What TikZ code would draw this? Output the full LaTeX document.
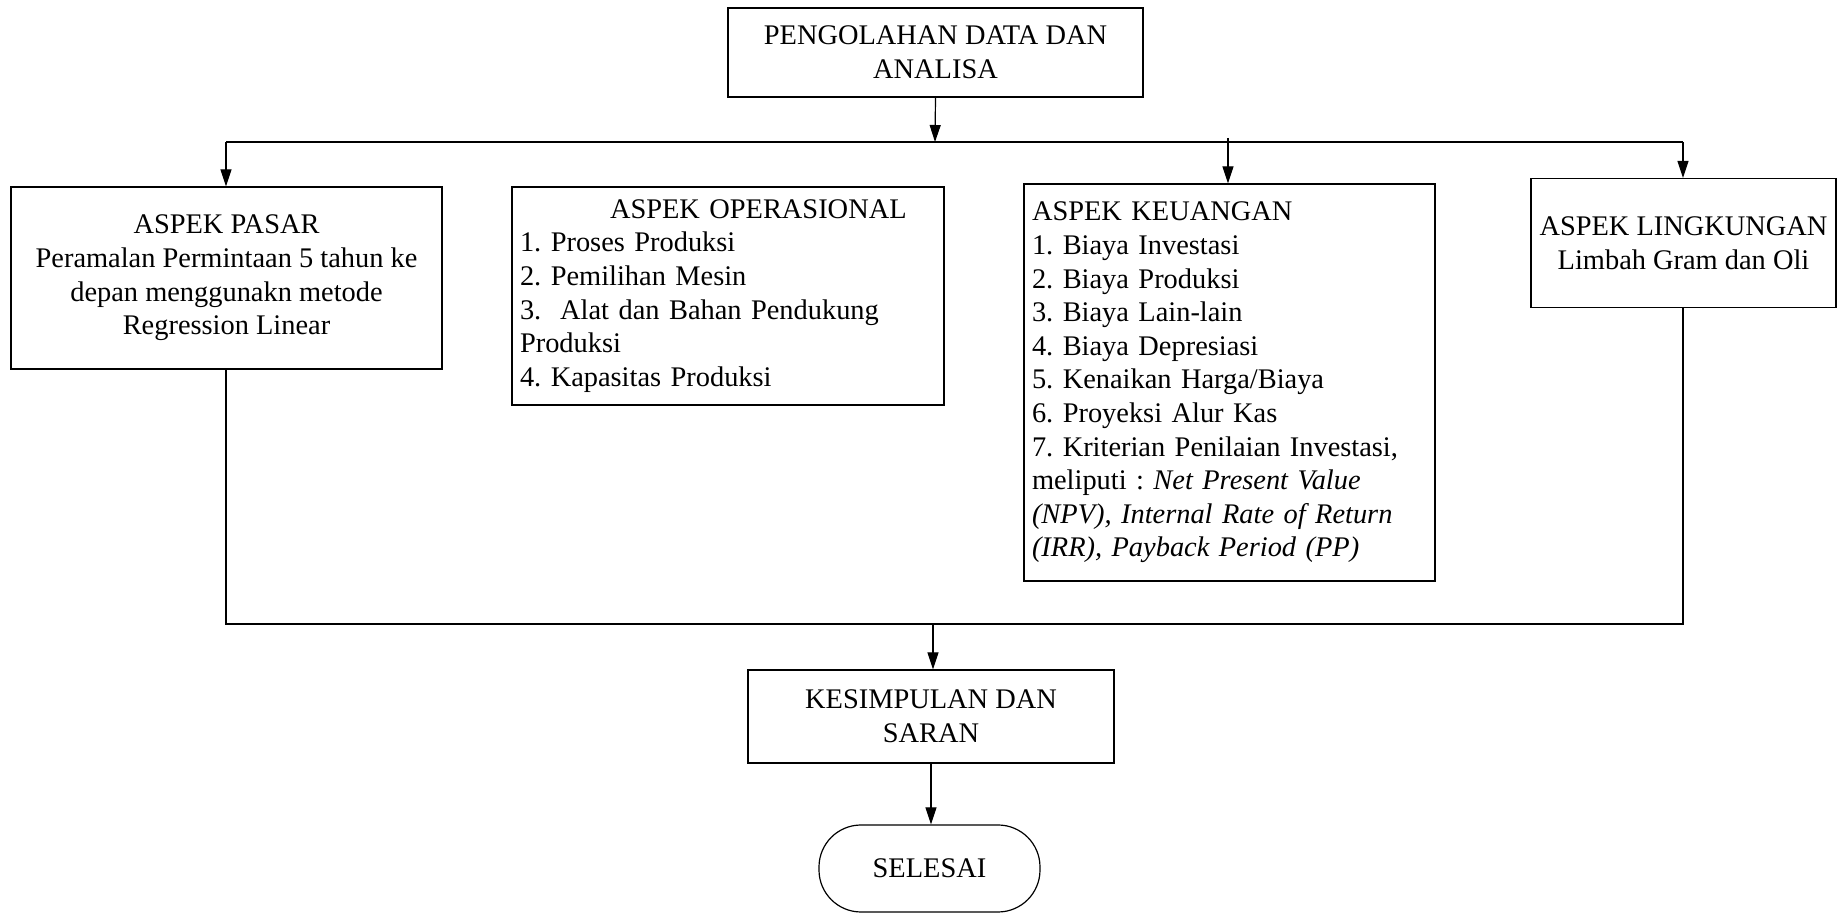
\documentclass[tikz,border=0pt]{standalone}
\usepackage{fontspec}
\setmainfont{Liberation Serif}
\usetikzlibrary{arrows.meta}
\frenchspacing
\begin{document}
\begin{tikzpicture}[x=0.5pt,y=-0.5pt,
  box/.style={draw,line width=0.6pt,rectangle,inner xsep=4pt,inner ysep=2pt,
    font=\fontsize{14.2}{16.8}\selectfont\frenchspacing},
  cbox/.style={box,align=center},
  lbox/.style={box,align=left},
  conn/.style={line width=0.6pt},
  arr/.style={line width=0.6pt,-{Triangle[length=8.5pt,width=5.5pt]}}]
\useasboundingbox (0,0) rectangle (1838,913);

\node[cbox,minimum width=207.5pt,minimum height=44.5pt] (top) at (935.5,52.5)
  {PENGOLAHAN DATA DAN\\ANALISA};
\node[cbox,minimum width=215.5pt,minimum height=91pt] (pasar) at (226.5,278)
  {ASPEK PASAR\\Peramalan Permintaan 5 tahun ke\\depan menggunakn metode\\Regression Linear};
\node[lbox,text width=208pt,minimum height=109pt] (oper) at (728,296)
  {\hspace*{45pt}ASPEK OPERASIONAL\\1. Proses Produksi\\2. Pemilihan Mesin\\3.\ \ Alat dan Bahan Pendukung\\Produksi\\4. Kapasitas Produksi};
\node[lbox,text width=197.5pt,minimum height=198.5pt] (keu) at (1229.5,382.5)
  {ASPEK KEUANGAN\\1. Biaya Investasi\\2. Biaya Produksi\\3. Biaya Lain-lain\\4. Biaya Depresiasi\\5. Kenaikan Harga/Biaya\\6. Proyeksi Alur Kas\\7. Kriterian Penilaian Investasi,\\meliputi : \textit{Net Present Value}\\\textit{(NPV), Internal Rate of Return}\\\textit{(IRR), Payback Period (PP)}};
\node[cbox,minimum width=152.5pt,minimum height=64.5pt] (ling) at (1683.5,243)
  {ASPEK LINGKUNGAN\\Limbah Gram dan Oli};
\node[cbox,minimum width=183pt,minimum height=46.5pt] (kes) at (931,716.5)
  {KESIMPULAN DAN\\SARAN};
\node[cbox,rounded corners=21pt,minimum width=110.5pt,minimum height=43.5pt] (sel) at (929.5,868.5)
  {SELESAI};

\coordinate (jt) at (935,142);
\coordinate (jl) at (226,142);
\coordinate (jr) at (1683,142);
\coordinate (jk) at (1228,138);
\coordinate (bl) at (226,624);
\coordinate (br) at (1683,624);
\coordinate (bm) at (933,624);

\draw[arr] (top.south) -- (jt);
\draw[conn] (jl) -- (jr);
\draw[arr] (jl) -- (jl |- pasar.north);
\draw[arr] (jk) -- (jk |- keu.north);
\draw[arr] (jr) -- (jr |- ling.north);
\draw[conn] (bl |- pasar.south) -- (bl) -- (br) -- (br |- ling.south);
\draw[arr] (bm) -- (bm |- kes.north);
\draw[arr] (kes.south) -- (kes.south |- sel.north);
\end{tikzpicture}
\end{document}
